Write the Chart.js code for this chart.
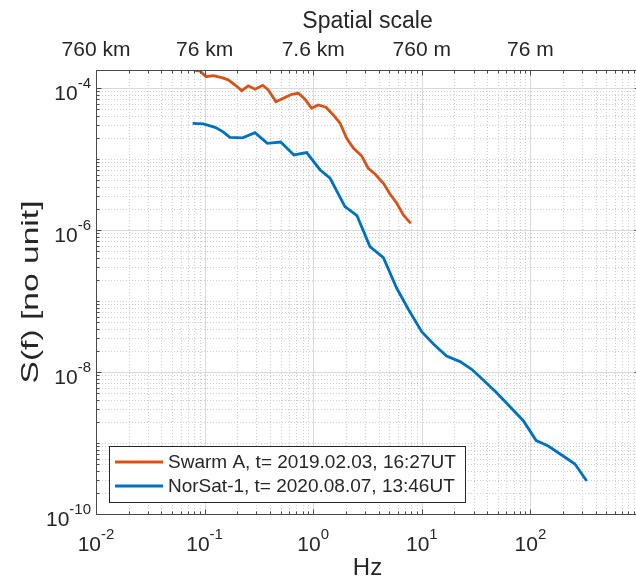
<!DOCTYPE html>
<html>
<head>
<meta charset="utf-8">
<script src="https://cdn.jsdelivr.net/npm/chart.js@4.4.1/dist/chart.umd.min.js"></script>
<style>
  html, body { margin: 0; padding: 0; background: #fff; overflow: hidden; }
  #wrap { width: 636px; height: 586px; overflow: hidden; }
</style>
</head>
<body>
<div id="wrap"><canvas id="spectrum" width="646" height="586"></canvas></div>
<script>
// Power spectra S(f), frequency in Hz
const swarmFreq = [0.0798, 0.0908, 0.103, 0.120, 0.144, 0.165, 0.191, 0.220, 0.252, 0.291, 0.343, 0.386,
  0.454, 0.531, 0.634, 0.730, 0.840, 0.968, 1.11, 1.31, 1.53, 1.77, 2.03, 2.34, 2.80, 3.21, 3.71, 4.43,
  5.09, 5.88, 6.76, 7.91];
const swarmPower = [1.79e-4, 1.73e-4, 1.44e-4, 1.49e-4, 1.40e-4, 1.30e-4, 1.10e-4, 9.16e-5, 1.07e-4,
  9.59e-5, 1.09e-4, 9.38e-5, 6.41e-5, 7.16e-5, 8.15e-5, 8.41e-5, 6.93e-5, 5.18e-5, 5.77e-5, 5.35e-5,
  4.17e-5, 3.18e-5, 1.96e-5, 1.42e-5, 1.10e-5, 7.40e-6, 6.15e-6, 4.55e-6, 3.21e-6, 2.38e-6, 1.63e-6, 1.24e-6];

const norsatFreq = [0.0776, 0.0973, 0.125, 0.147, 0.171, 0.224, 0.291, 0.378, 0.502, 0.665, 0.871, 1.16,
  1.43, 1.96, 2.53, 3.33, 4.43, 5.88, 7.52, 9.98, 12.8, 16.9, 22.5, 28.8, 36.8, 48.9, 64.9, 86.1, 113,
  146, 194, 257, 330];
const norsatPower = [3.18e-5, 3.11e-5, 2.79e-5, 2.43e-5, 2.02e-5, 1.98e-5, 2.34e-5, 1.66e-5, 1.73e-5,
  1.14e-5, 1.23e-5, 7.00e-6, 5.35e-6, 2.13e-6, 1.59e-6, 5.82e-7, 4.07e-7, 1.51e-7, 7.64e-8, 3.70e-8,
  2.48e-8, 1.68e-8, 1.40e-8, 1.09e-8, 7.71e-9, 5.11e-9, 3.24e-9, 2.06e-9, 1.08e-9, 9.08e-10, 6.78e-10,
  5.06e-10, 2.92e-10];

const seriesLabels = ['Swarm A, t= 2019.02.03, 16:27UT', 'NorSat-1, t= 2020.08.07, 13:46UT'];
const yAxisTitle = 'S(f) [no unit]';

// tick exponents and the matching spatial scales on the top axis
const freqDecades = [-2, -1, 0, 1, 2];
const powerDecades = [-10, -8, -6, -4];
const spatialLabels = ['760 km', '76 km', '7.6 km', '760 m', '76 m'];

const FONT = '"Liberation Sans", Arial, Helvetica, sans-serif';
const TEXT = '#262626';
Chart.defaults.font.family = FONT;
Chart.defaults.color = TEXT;

const toPoints = (xs, ys) => xs.map((f, i) => ({ x: f, y: ys[i] }));

// log positions m*10^e inside [min, max]
function logSteps(scale) {
  const out = [];
  const e0 = Math.floor(Math.log10(scale.min)), e1 = Math.ceil(Math.log10(scale.max));
  for (let e = e0; e <= e1; e++) {
    for (let m = 1; m < 10; m++) {
      const v = m * Math.pow(10, e);
      if (v >= scale.min * 0.999 && v <= scale.max * 1.001) out.push({ v, m, e });
    }
  }
  return out;
}

function drawPower(ctx, exp, x, baseY, align) {
  const base = '10', sup = String(exp);
  ctx.font = '21px ' + FONT;
  const wb = ctx.measureText(base).width;
  ctx.font = '15px ' + FONT;
  const ws = ctx.measureText(sup).width;
  const x0 = align === 'center' ? x - (wb + ws) / 2 : x - (wb + ws);
  ctx.font = '21px ' + FONT;
  ctx.fillText(base, x0, baseY);
  ctx.font = '15px ' + FONT;
  ctx.fillText(sup, x0 + wb, baseY - 12);
}

// grid, box, inward ticks, power-of-ten labels, y title and the legend box
const matlabAxes = {
  id: 'matlabAxes',
  beforeDatasetsDraw(chart) {
    const { ctx, chartArea: a, scales: { x, y } } = chart;
    const xs = logSteps(x), ys = logSteps(y);
    ctx.save();
    ctx.beginPath();
    ctx.rect(a.left, a.top, a.right - a.left, a.bottom - a.top);
    ctx.clip();
    ctx.lineWidth = 1;

    ctx.strokeStyle = '#cdcdcd';
    ctx.setLineDash([1, 2]);
    ctx.beginPath();
    xs.filter(s => s.m !== 1).forEach(s => {
      const px = Math.round(x.getPixelForValue(s.v)) + 0.5;
      ctx.moveTo(px, a.top); ctx.lineTo(px, a.bottom);
    });
    ys.filter(s => !(s.m === 1 && powerDecades.includes(s.e))).forEach(s => {
      const py = Math.round(y.getPixelForValue(s.v)) + 0.5;
      ctx.moveTo(a.left, py); ctx.lineTo(a.right, py);
    });
    ctx.stroke();

    ctx.setLineDash([]);
    ctx.strokeStyle = '#dadada';
    ctx.beginPath();
    xs.filter(s => s.m === 1).forEach(s => {
      const px = Math.round(x.getPixelForValue(s.v)) + 0.5;
      ctx.moveTo(px, a.top); ctx.lineTo(px, a.bottom);
    });
    ys.filter(s => s.m === 1 && powerDecades.includes(s.e)).forEach(s => {
      const py = Math.round(y.getPixelForValue(s.v)) + 0.5;
      ctx.moveTo(a.left, py); ctx.lineTo(a.right, py);
    });
    ctx.stroke();
    ctx.restore();
  },
  afterDatasetsDraw(chart) {
    const { ctx, chartArea: a, scales: { x, y } } = chart;
    const L = Math.round(a.left) + 0.5, R = Math.round(a.right) + 0.5;
    const T = Math.round(a.top) + 0.5, B = Math.round(a.bottom) + 0.5;
    ctx.save();
    ctx.strokeStyle = '#4a4a4a';
    ctx.lineWidth = 1;
    ctx.beginPath();
    ctx.rect(L, T, R - L, B - T);
    logSteps(x).forEach(s => {
      const px = Math.round(x.getPixelForValue(s.v)) + 0.5;
      const len = s.m === 1 ? 5 : 3;
      ctx.moveTo(px, B); ctx.lineTo(px, B - len);
      ctx.moveTo(px, T); ctx.lineTo(px, T + len);
    });
    logSteps(y).forEach(s => {
      const py = Math.round(y.getPixelForValue(s.v)) + 0.5;
      const len = (s.m === 1 && powerDecades.includes(s.e)) ? 5 : 3;
      ctx.moveTo(L, py); ctx.lineTo(L + len, py);
      ctx.moveTo(R, py); ctx.lineTo(R - len, py);
    });
    ctx.stroke();

    ctx.fillStyle = TEXT;
    ctx.textAlign = 'left';
    ctx.textBaseline = 'alphabetic';
    freqDecades.forEach(e => drawPower(ctx, e, x.getPixelForValue(Math.pow(10, e)), a.bottom + 37, 'center'));
    powerDecades.forEach(e => drawPower(ctx, e, a.left - 5, y.getPixelForValue(Math.pow(10, e)) + 12, 'right'));

    // y axis title, wide lettering
    ctx.save();
    ctx.translate(31, (a.top + a.bottom) / 2);
    ctx.rotate(-Math.PI / 2);
    ctx.scale(1.4, 1);
    ctx.font = '24px ' + FONT;
    ctx.textAlign = 'center';
    ctx.textBaseline = 'middle';
    ctx.fillText(yAxisTitle, 0, 0);
    ctx.restore();

    // legend
    ctx.font = '19px ' + FONT;
    const sets = chart.data.datasets;
    const textW = Math.max(...sets.map(d => ctx.measureText(d.label).width));
    const lx = Math.round(a.left) + 13, ly = Math.round(a.bottom) - 68;
    const w = Math.round(6 + 48 + 5 + textW + 9), h = 56;
    ctx.fillStyle = '#fff';
    ctx.fillRect(lx, ly, w, h);
    ctx.strokeStyle = '#262626';
    ctx.lineWidth = 1;
    ctx.strokeRect(lx + 0.5, ly + 0.5, w, h);
    sets.forEach((d, i) => {
      const cy = ly + 16 + i * 24;
      ctx.strokeStyle = d.borderColor;
      ctx.lineWidth = d.borderWidth;
      ctx.beginPath();
      ctx.moveTo(lx + 6, cy); ctx.lineTo(lx + 54, cy);
      ctx.stroke();
      ctx.fillStyle = TEXT;
      ctx.textBaseline = 'middle';
      ctx.fillText(d.label, lx + 59, cy + 1);
    });
    ctx.restore();
  }
};

new Chart(document.getElementById('spectrum'), {
  type: 'line',
  data: {
    datasets: [
      {
        label: seriesLabels[0],
        data: toPoints(swarmFreq, swarmPower),
        borderColor: '#D95319',
        borderWidth: 2.8,
        pointRadius: 0,
        tension: 0
      },
      {
        label: seriesLabels[1],
        data: toPoints(norsatFreq, norsatPower),
        borderColor: '#0072BD',
        borderWidth: 2.8,
        pointRadius: 0,
        tension: 0
      }
    ]
  },
  options: {
    responsive: false,
    animation: false,
    layout: { padding: { left: 0, right: 7, top: 0, bottom: 0 } },
    plugins: { legend: { display: false }, tooltip: { enabled: false } },
    scales: {
      x: {
        type: 'logarithmic',
        position: 'bottom',
        min: 0.01,
        max: 1000,
        ticks: { display: false },
        grid: { display: false, drawTicks: false },
        border: { display: false },
        title: { display: true, text: 'Hz', font: { size: 24 }, padding: { top: 0, bottom: 3 } },
        afterFit: s => { s.height = 72; }
      },
      xTop: {
        type: 'logarithmic',
        position: 'top',
        min: 0.01,
        max: 1000,
        afterBuildTicks: s => { s.ticks = freqDecades.map(e => ({ value: Math.pow(10, e) })); },
        ticks: {
          callback: (v, i) => spatialLabels[i],
          font: { size: 21 },
          padding: 7,
          maxRotation: 0,
          autoSkip: false
        },
        grid: { display: false, drawTicks: false },
        border: { display: false },
        title: { display: true, text: 'Spatial scale', font: { size: 23 }, padding: { top: 8, bottom: 0 } },
        afterFit: s => { s.height = 70; }
      },
      y: {
        type: 'logarithmic',
        min: 1e-10,
        max: 1.79e-4,
        ticks: { display: false },
        grid: { display: false, drawTicks: false },
        border: { display: false },
        title: { display: false },
        afterFit: s => { s.width = 96; }
      }
    }
  },
  plugins: [matlabAxes]
});
</script>
</body>
</html>
